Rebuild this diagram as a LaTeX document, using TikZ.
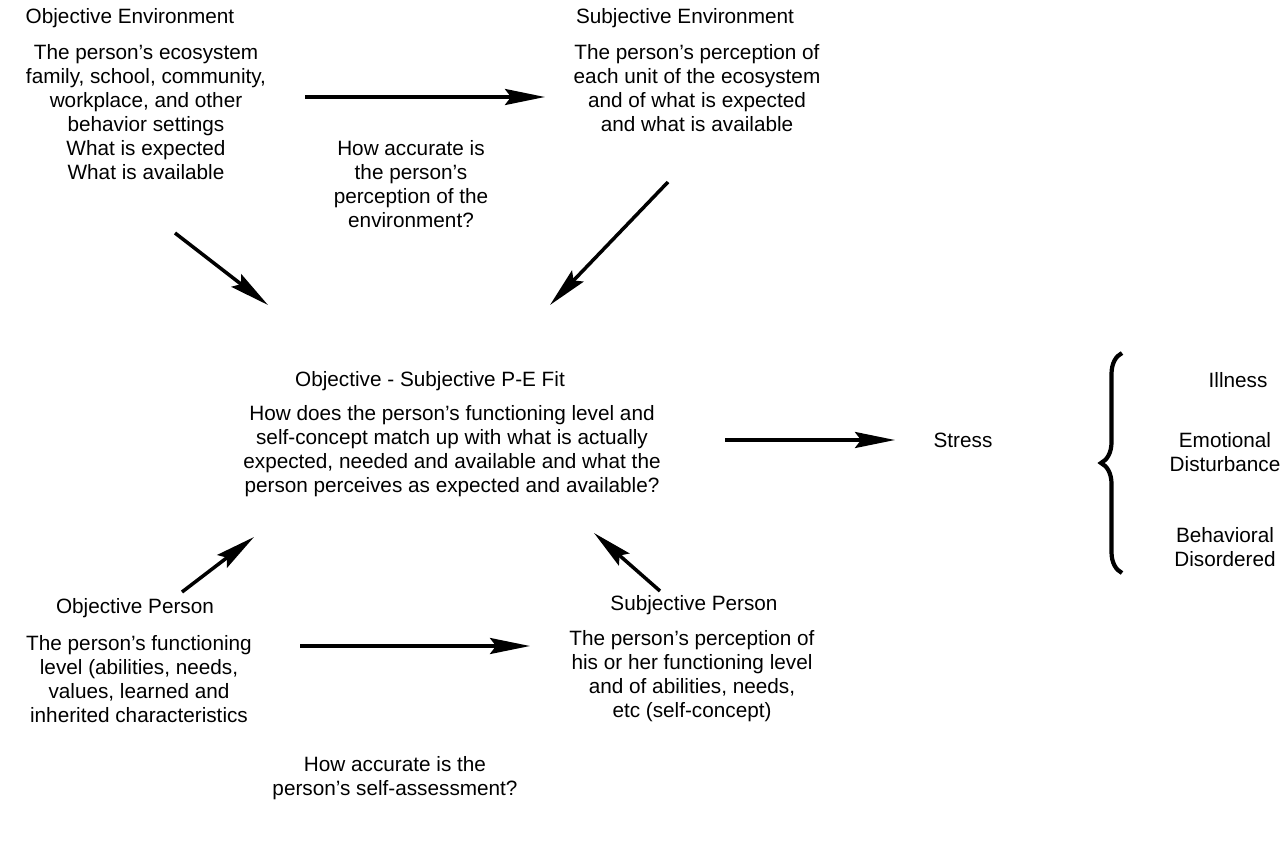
\documentclass[tikz,border=0pt]{standalone}
\usepackage{fontspec}
\setmainfont{Liberation Sans}
\usetikzlibrary{arrows.meta,decorations.pathreplacing}
\begin{document}
\begin{tikzpicture}[x=0.02cm,y=-0.02cm,
    txt/.style={align=center,inner sep=0pt,font=\fontsize{11.8}{13.6}\selectfont},
    arr/.style={line width=2pt,-{Stealth[length=0.8cm,width=0.32cm,inset=0.12cm]}}]
    \useasboundingbox (0,0) rectangle (1281,842);
    \node[txt] (OEt) at (130,18) {Objective Environment};
    \node[txt] (OEb) at (146,112) {The person's ecosystem\\family, school, community,\\workplace, and other\\behavior settings\\What is expected\\What is available};
    \node[txt] (SEt) at (685,18) {Subjective Environment};
    \node[txt] (SEb) at (697,88) {The person's perception of\\each unit of the ecosystem\\and of what is expected\\and what is available};
    \node[txt] (QE) at (411,184) {How accurate is\\the person's\\perception of the\\environment?};
    \node[txt] (FITt) at (430,381) {Objective - Subjective P-E Fit};
    \node[txt] (FITb) at (452,451) {How does the person's functioning level and\\self-concept match up with what is actually\\expected, needed and available and what the\\person perceives as expected and available?};
    \node[txt] (S) at (963,440) {Stress};
    \node[txt] (I) at (1238,380) {Illness};
    \node[txt] (ED) at (1225,452) {Emotional\\Disturbance};
    \node[txt] (BD) at (1225,547) {Behavioral\\Disordered};
    \node[txt] (OPt) at (135,608) {Objective Person};
    \node[txt] (OPb) at (139,679) {The person's functioning\\level (abilities, needs,\\values, learned and\\inherited characteristics};
    \node[txt] (SPt) at (694,605) {Subjective Person};
    \node[txt] (SPb) at (692,676) {The person's perception of\\his or her functioning level\\and of abilities, needs,\\etc (self-concept)};
    \node[txt] (QP) at (395,778) {How accurate is the\\person's self-assessment?};
    \coordinate (A1) at (305,97); \coordinate (B1) at (545,97);
    \coordinate (A2) at (175,233); \coordinate (B2) at (268,305);
    \coordinate (A3) at (668,182); \coordinate (B3) at (550,305);
    \coordinate (A4) at (725,440); \coordinate (B4) at (895,440);
    \coordinate (A5) at (182,592); \coordinate (B5) at (254,537);
    \coordinate (A6) at (660,591); \coordinate (B6) at (594,533);
    \coordinate (A7) at (300,646); \coordinate (B7) at (530,646);
    \draw[arr] (A1)--(B1); \draw[arr] (A2)--(B2); \draw[arr] (A3)--(B3);
    \draw[arr] (A4)--(B4); \draw[arr] (A5)--(B5); \draw[arr] (A6)--(B6);
    \draw[arr] (A7)--(B7);
    \coordinate (BR1) at (1122,573); \coordinate (BR2) at (1122,353);
    \draw[line width=2.4pt,decorate,decoration={brace,amplitude=0.42cm}] (BR1)--(BR2);
  \end{tikzpicture}
\end{document}
